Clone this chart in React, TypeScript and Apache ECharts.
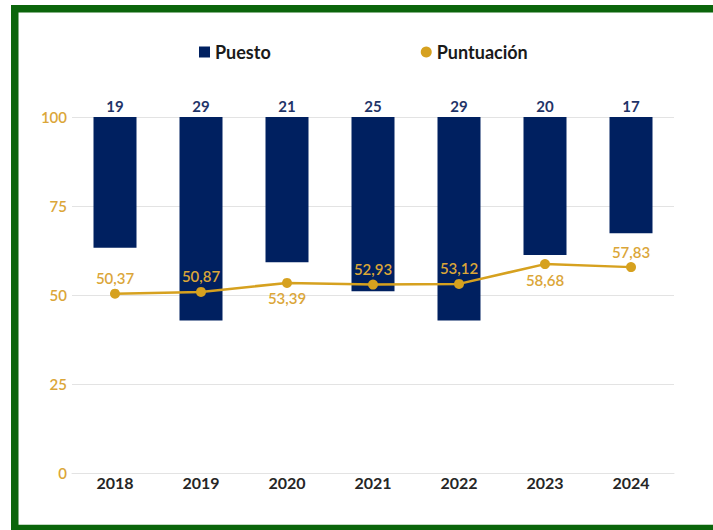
import React, { useEffect, useRef } from "react";
import * as echarts from "echarts";

const years = ["2018", "2019", "2020", "2021", "2022", "2023", "2024"];
const puesto = [19, 29, 21, 25, 29, 20, 17];
const puntuacion = [50.37, 50.87, 53.39, 52.93, 53.12, 58.68, 57.83];
const scoreLabelSide = ["top", "top", "bottom", "top", "top", "bottom", "top"];

const NAVY = "#002060";
const GOLD = "#D6A11F";
const GOLD_TEXT = "#DBA638";
const GRID = "#e3e3e3";

export default function App() {
  const ref = useRef<HTMLDivElement>(null);
  useEffect(() => {
    if (!ref.current) return;
    const chart = echarts.init(ref.current, undefined, { renderer: "svg" });
    chart.setOption({
      animation: false,
      backgroundColor: "#ffffff",
      textStyle: { fontFamily: "Lato" },
      legend: {
        left: 194,
        top: 38,
        itemGap: 150,
        itemWidth: 11,
        itemHeight: 11,
        textStyle: { fontSize: 18, fontWeight: "bold", color: "#1a1a1a", fontFamily: "Lato" },
        data: [
          { name: "Puesto", icon: "rect" },
          { name: "Puntuación", icon: "circle" },
        ],
      },
      grid: { left: 72, right: 39, top: 117, bottom: 57 },
      xAxis: {
        type: "category",
        data: years,
        axisTick: { show: false },
        axisLine: { lineStyle: { color: GRID } },
        axisLabel: { color: "#262626", fontSize: 16, fontWeight: "bold", margin: 1, fontFamily: "Lato" },
      },
      yAxis: [
        {
          type: "value",
          min: 0,
          max: 100,
          interval: 25,
          axisLine: { show: false },
          axisTick: { show: false },
          axisLabel: { color: GOLD_TEXT, fontSize: 15, fontWeight: 600, margin: 5, fontFamily: "Lato" },
          splitLine: { lineStyle: { color: GRID } },
        },
        {
          type: "value",
          inverse: true,
          min: 1,
          max: 50,
          show: false,
          splitLine: { show: false },
        },
      ],
      series: [
        {
          name: "Puesto",
          type: "bar",
          yAxisIndex: 1,
          data: puesto,
          barWidth: 43,
          itemStyle: { color: NAVY },
          label: {
            show: true,
            position: "top",
            distance: 4,
            color: "#1f3468",
            fontSize: 15,
            fontWeight: "bold",
            fontFamily: "Lato",
          },
        },
        {
          name: "Puntuación",
          type: "line",
          data: puntuacion.map((v, i) => ({ value: v, label: { position: scoreLabelSide[i] } })),
          symbol: "circle",
          symbolSize: 10,
          itemStyle: { color: GOLD },
          lineStyle: { color: GOLD, width: 2.5 },
          label: {
            show: true,
            distance: 3,
            color: GOLD_TEXT,
            fontSize: 15,
            fontWeight: 600,
            fontFamily: "Lato",
            formatter: (p: any) => Number(p.value).toFixed(2).replace(".", ","),
          },
        },
      ],
      graphic: [
        {
          type: "rect",
          silent: true,
          z: 100,
          shape: { x: 14.75, y: 8.75, width: 760, height: 519.75 },
          style: { fill: "none", stroke: "#0b650b", lineWidth: 7.5 },
        },
      ],
    });
    return () => chart.dispose();
  }, []);
  return (
    <div style={{ position: "fixed", left: 0, top: 0, width: 713, height: 530 }}>
      <div ref={ref} style={{ width: 713, height: 530 }} />
    </div>
  );
}
